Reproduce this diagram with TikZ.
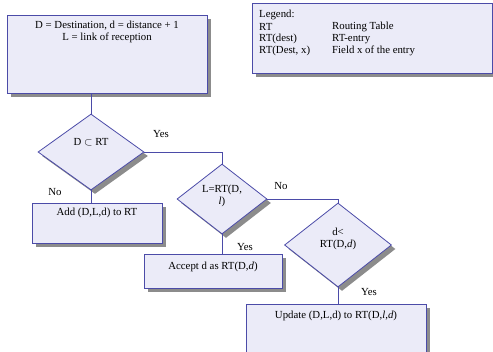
\documentclass[tikz,border=0pt]{standalone}
\usepackage{fontspec}
\setmainfont{Liberation Serif}
\usetikzlibrary{shapes.geometric,shadows}
\definecolor{boxfill}{HTML}{EBEBF8}
\definecolor{boxline}{HTML}{4B4BA8}
\definecolor{shade}{HTML}{8C8C8C}
\begin{document}
\begin{tikzpicture}[x=1pt,y=-1pt,
  font=\fontsize{10.8}{12.5}\selectfont,
  shd/.style={drop shadow={shadow xshift=4pt,shadow yshift=-4pt,fill=shade,opacity=1}},
  procbox/.style={draw=boxline,fill=boxfill,line width=0.8pt,rectangle,inner sep=0pt,shd},
  decision/.style={draw=boxline,fill=boxfill,line width=0.8pt,diamond,inner sep=0pt,shd},
  txt/.style={inner sep=0pt,align=center},
  flow/.style={draw=boxline,line width=0.8pt}]
\useasboundingbox (0,0) rectangle (493,351);

% process boxes
\node[procbox,minimum width=200pt,minimum height=78pt] (start) at (107,54) {};
\node[procbox,minimum width=240pt,minimum height=70pt] (legend) at (372,38) {};
\node[procbox,minimum width=130pt,minimum height=40pt] (add) at (97,223) {};
\node[procbox,minimum width=138pt,minimum height=34pt] (accept) at (213,271) {};
\node[procbox,minimum width=180pt,minimum height=48pt] (update) at (336,328) {};

% decisions
\node[decision,minimum width=106pt,minimum height=76pt] (d1) at (91,152) {};
\node[decision,minimum width=90pt,minimum height=70pt] (d2) at (222,199) {};
\node[decision,minimum width=107pt,minimum height=84pt] (d3) at (338,245) {};

% texts
\node[txt] (t0) at (107,32) {D = Destination, d = distance + 1\\L = link of reception};
\node[txt,anchor=west] (lg0) at (259,15) {Legend:};
\node[txt,anchor=west] (lg1) at (259,27) {RT};
\node[txt,anchor=west] (lg2) at (259,39) {RT(dest)};
\node[txt,anchor=west] (lg3) at (259,51) {RT(Dest, x)};
\node[txt,anchor=west] (lg4) at (332,27) {Routing Table};
\node[txt,anchor=west] (lg5) at (332,39) {RT-entry};
\node[txt,anchor=west] (lg6) at (332,51) {Field x of the entry};
\node[txt] (t1) at (91,142) {D $\subset$ RT};
\node[txt] (t2) at (222,196) {L=RT(D,\\\textit{l})};
\node[txt] (t3) at (338,239) {d<\\RT(D,\textit{d})};
\node[txt] (t4) at (97,213) {Add (D,L,d) to RT};
\node[txt] (t5) at (213,267) {Accept d as RT(D,\textit{d})};
\node[txt] (t6) at (336,316) {Update (D,L,d) to RT(D,\textit{l},\textit{d})};

% branch labels
\node[txt] (y1) at (161,134) {Yes};
\node[txt] (n1) at (55,192) {No};
\node[txt] (n2) at (281,186) {No};
\node[txt] (y2) at (245,247) {Yes};
\node[txt] (y3) at (369,292) {Yes};

% connectors
\draw[flow] (d1.north) -- (d1.north |- start.south);
\draw[flow] (d1.east) -| (d2.north);
\draw[flow] (d1.south) -- (d1.south |- add.north);
\draw[flow] (d2.east) -| (d3.north);
\draw[flow] (d2.south) -- (d2.south |- accept.north);
\draw[flow] (d3.south) -- (d3.south |- update.north);
\end{tikzpicture}
\end{document}
